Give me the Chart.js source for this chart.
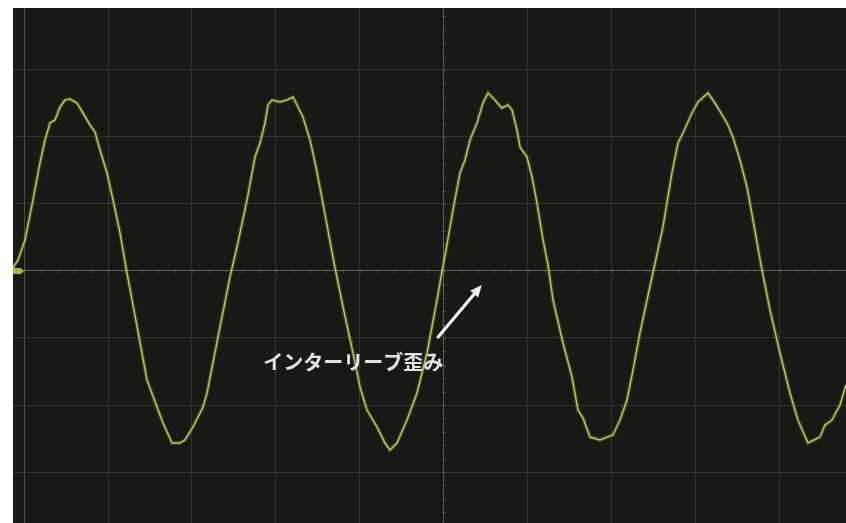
<!DOCTYPE html>
<html>
<head>
<meta charset="utf-8">
<script src="https://cdn.jsdelivr.net/npm/chart.js@4/dist/chart.umd.min.js"></script>
<style>
  html, body { margin: 0; padding: 0; background: #ffffff; }
  #wrap { position: absolute; left: 13px; top: 8px; width: 833px; height: 515px; }
  #scope { display: block; background: #1a1715; }
</style>
</head>
<body>
<div id="wrap"><canvas id="scope" width="833" height="515"></canvas></div>
<script>
// Channel 1 trace, in graticule divisions (x: time div, y: vertical div)
const traceX = [
  -5.131, -5.071, -4.988, -4.893, -4.810, -4.750, -4.690, -4.631, -4.571, -4.512,
  -4.452, -4.369, -4.298, -4.214, -4.155, -4.095, -4.012, -3.940, -3.857, -3.774,
  -3.655, -3.536, -3.417, -3.345, -3.238, -3.143, -3.083, -2.988, -2.869, -2.821,
  -2.667, -2.548, -2.464, -2.345, -2.250, -2.190, -2.131, -2.095, -2.048, -1.952,
  -1.869, -1.798, -1.738, -1.679, -1.595, -1.524, -1.464, -1.393, -1.321, -1.202,
  -1.083, -1.000, -0.917, -0.798, -0.702, -0.643, -0.560, -0.440, -0.321, -0.202,
  -0.083, -0.036, 0.024, 0.107, 0.190, 0.250, 0.310, 0.393, 0.464, 0.524,
  0.583, 0.690, 0.762, 0.810, 0.869, 0.905, 0.988, 1.048, 1.107, 1.179,
  1.238, 1.298, 1.417, 1.524, 1.595, 1.655, 1.738, 1.857, 2.012, 2.095,
  2.179, 2.250, 2.333, 2.417, 2.500, 2.607, 2.714, 2.786, 2.845, 2.952,
  3.024, 3.143, 3.226, 3.369, 3.440, 3.524, 3.607, 3.679, 3.774, 3.881,
  4.000, 4.119, 4.214, 4.333, 4.476, 4.536, 4.619, 4.714, 4.786
];
const traceY = [
  0.045, 0.164, 0.463, 1.060, 1.612, 1.955, 2.209, 2.254, 2.448, 2.552,
  2.567, 2.507, 2.358, 2.179, 2.075, 1.806, 1.463, 1.060, 0.567, -0.030,
  -0.821, -1.627, -2.030, -2.269, -2.567, -2.567, -2.522, -2.328, -2.030, -1.821,
  -0.836, -0.090, 0.358, 1.060, 1.701, 1.910, 2.209, 2.478, 2.552, 2.522,
  2.552, 2.597, 2.448, 2.299, 1.955, 1.552, 1.164, 0.687, 0.194, -0.537,
  -1.224, -1.731, -2.075, -2.328, -2.567, -2.672, -2.567, -2.224, -1.821, -1.224,
  -0.433, -0.090, 0.313, 0.910, 1.463, 1.657, 1.955, 2.209, 2.507, 2.657,
  2.582, 2.433, 2.478, 2.403, 2.104, 1.851, 1.701, 1.403, 1.015, 0.463,
  0.090, -0.433, -1.075, -1.582, -2.075, -2.194, -2.478, -2.522, -2.448, -2.224,
  -1.925, -1.478, -0.925, -0.433, 0.045, 0.657, 1.463, 1.910, 2.060, 2.358,
  2.522, 2.657, 2.507, 2.209, 2.000, 1.657, 1.254, 0.761, 0.090, -0.582,
  -1.224, -1.821, -2.224, -2.567, -2.478, -2.299, -2.224, -2.000, -1.701
];

// Visible window of the graticule (divisions)
const xRange = [-5.131, 4.786];
const yRange = [-3.761, 3.925];

const noteText = 'インターリーブ歪み';

const points = traceX.map((x, i) => ({ x: x, y: traceY[i] }));

// Graticule extras: minor ticks on the centre axes and the channel marker
const graticule = {
  id: 'graticule',
  beforeDatasetsDraw(chart) {
    const { ctx, scales: { x, y } } = chart;
    const x0 = x.getPixelForValue(0), y0 = y.getPixelForValue(0);
    ctx.save();
    ctx.strokeStyle = 'rgba(120,116,108,0.45)';
    ctx.lineWidth = 1;
    ctx.beginPath();
    for (let v = Math.ceil(xRange[0] * 5) / 5; v <= xRange[1]; v += 0.2) {
      const px = Math.round(x.getPixelForValue(v)) + 0.5;
      ctx.moveTo(px, y0 - 2); ctx.lineTo(px, y0 + 2);
    }
    for (let v = Math.ceil(yRange[0] * 5) / 5; v <= yRange[1]; v += 0.2) {
      const py = Math.round(y.getPixelForValue(v)) + 0.5;
      ctx.moveTo(x0 - 2, py); ctx.lineTo(x0 + 2, py);
    }
    ctx.stroke();
    // channel 1 ground marker
    ctx.fillStyle = 'rgba(190,190,70,0.9)';
    const left = x.getPixelForValue(xRange[0]);
    ctx.beginPath();
    ctx.moveTo(left, y0 - 3);
    ctx.lineTo(left + 8, y0 - 3);
    ctx.lineTo(left + 11, y0);
    ctx.lineTo(left + 8, y0 + 3);
    ctx.lineTo(left, y0 + 3);
    ctx.closePath();
    ctx.fill();
    ctx.restore();
  }
};

// Callout with arrow pointing at the distorted edge
const callout = {
  id: 'callout',
  afterDatasetsDraw(chart, args, opts) {
    const { ctx, scales: { x, y } } = chart;
    const tx = x.getPixelForValue(opts.tip[0]), ty = y.getPixelForValue(opts.tip[1]);
    const sx = x.getPixelForValue(opts.tail[0]), sy = y.getPixelForValue(opts.tail[1]);
    const ang = Math.atan2(ty - sy, tx - sx);
    const head = 13;
    ctx.save();
    ctx.strokeStyle = '#f2f2f2';
    ctx.fillStyle = '#f2f2f2';
    ctx.lineWidth = 3.2;
    ctx.lineCap = 'round';
    ctx.beginPath();
    ctx.moveTo(sx, sy);
    ctx.lineTo(tx - Math.cos(ang) * head * 0.7, ty - Math.sin(ang) * head * 0.7);
    ctx.stroke();
    ctx.beginPath();
    ctx.moveTo(tx, ty);
    ctx.lineTo(tx - head * Math.cos(ang - 0.42), ty - head * Math.sin(ang - 0.42));
    ctx.lineTo(tx - head * Math.cos(ang + 0.42), ty - head * Math.sin(ang + 0.42));
    ctx.closePath();
    ctx.fill();
    ctx.font = 'bold 20px "Noto Sans CJK JP", sans-serif';
    ctx.textAlign = 'center';
    ctx.textBaseline = 'middle';
    ctx.fillStyle = '#e4e4e4';
    ctx.fillText(opts.text, x.getPixelForValue(opts.label[0]), y.getPixelForValue(opts.label[1]));
    ctx.restore();
  }
};

const gridColor = (ctx, edge) => {
  const v = ctx.tick && ctx.tick.value;
  if (v === 0) return 'rgba(112,108,100,0.85)';
  if (v === edge) return 'rgba(90,87,80,0.8)';
  return 'rgba(64,60,55,0.7)';
};

new Chart(document.getElementById('scope'), {
  type: 'line',
  data: {
    datasets: [
      { data: points, borderColor: 'rgba(150,160,40,0.3)', borderWidth: 4, pointRadius: 0, tension: 0 },
      { data: points, borderColor: '#cfcc80', borderWidth: 1.5, pointRadius: 0, tension: 0 }
    ]
  },
  options: {
    responsive: false,
    animation: false,
    events: [],
    layout: { padding: 0 },
    plugins: {
      legend: { display: false },
      tooltip: { enabled: false },
      callout: { tip: [0.45, -0.21], tail: [-0.07, -0.985], label: [-1.08, -1.36], text: noteText }
    },
    scales: {
      x: {
        type: 'linear', min: xRange[0], max: xRange[1],
        ticks: { display: false, stepSize: 1, includeBounds: false },
        grid: { color: c => gridColor(c, -5), lineWidth: 1, drawTicks: false },
        border: { display: false }
      },
      y: {
        type: 'linear', min: yRange[0], max: yRange[1],
        ticks: { display: false, stepSize: 1, includeBounds: false },
        grid: { color: c => gridColor(c, null), lineWidth: 1, drawTicks: false },
        border: { display: false }
      }
    }
  },
  plugins: [graticule, callout]
});
</script>
</body>
</html>
